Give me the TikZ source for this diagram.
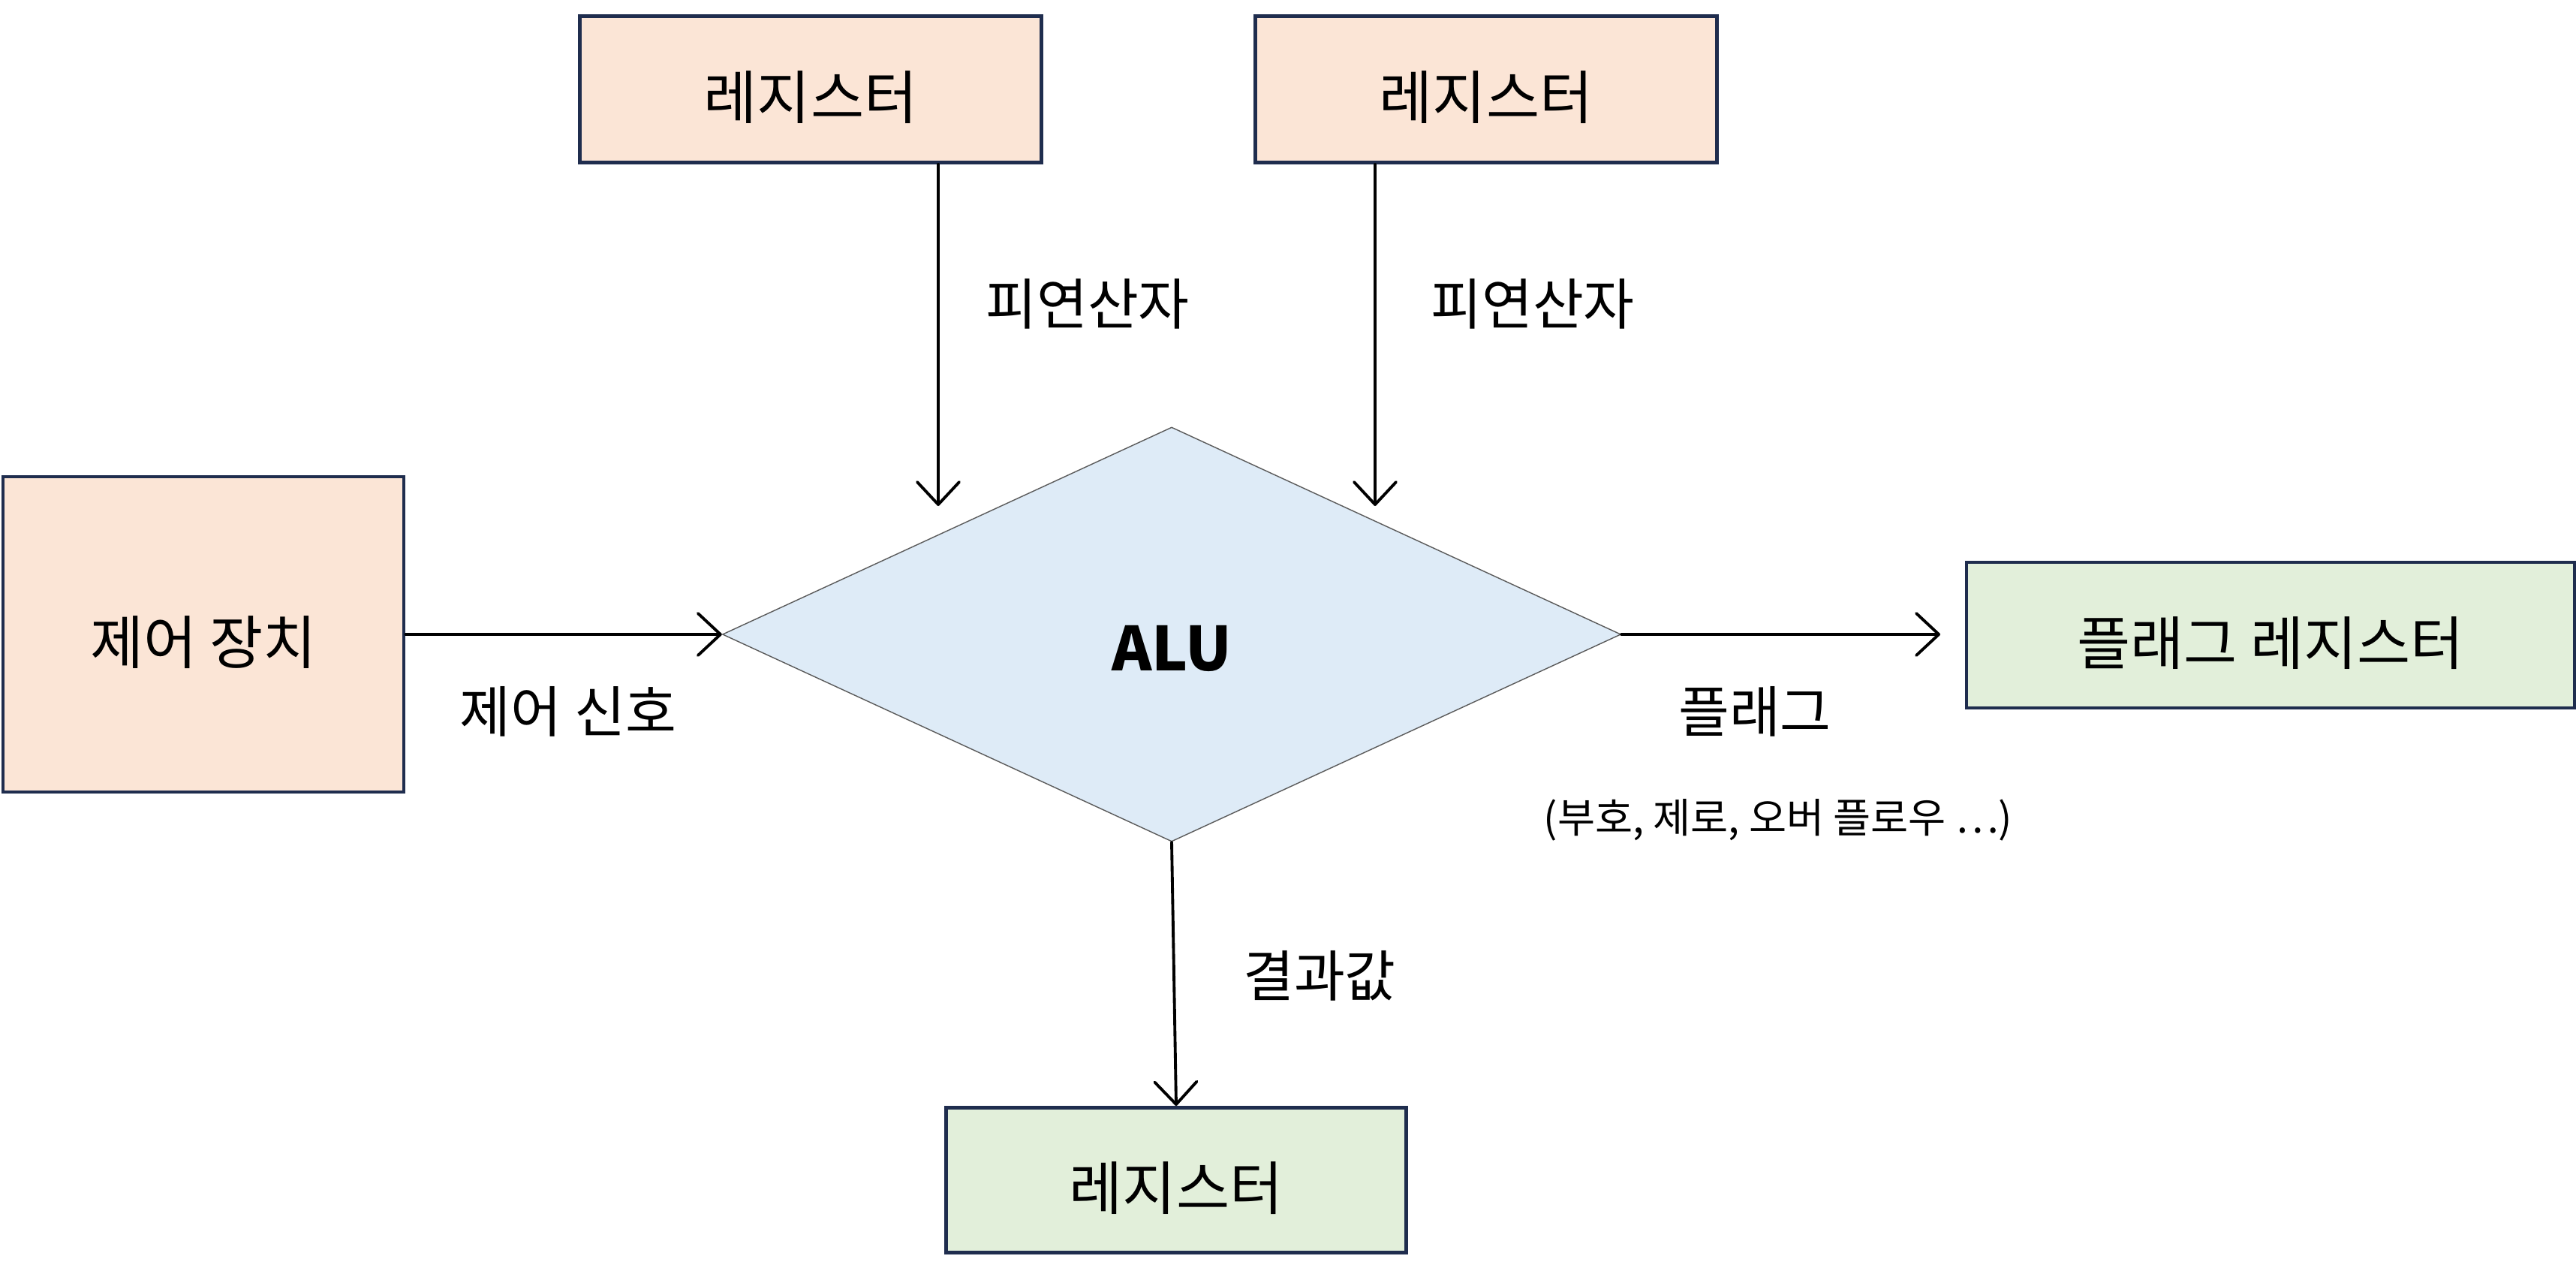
\documentclass[tikz,border=0pt]{standalone}
\usepackage{fontspec}
\setmainfont{Noto Sans CJK KR}
\usetikzlibrary{shapes.geometric, arrows.meta}
\usepackage{xcolor}
\definecolor{regpeach}{RGB}{251, 229, 214}
\definecolor{reggreen}{RGB}{226, 239, 218}
\definecolor{alublue}{RGB}{222, 235, 247}
\definecolor{boxnavy}{RGB}{31, 45, 78}
\definecolor{alugray}{RGB}{90, 90, 90}
\newcommand{\lowtext}[2]{\raisebox{-#1}[\height][\depth]{#2}}

\begin{document}
\begin{tikzpicture}[
    box/.style={rectangle, draw=boxnavy, line width=1.4pt, minimum width=6.15cm, minimum height=1.95cm, align=center, font=\fontsize{22pt}{26pt}\selectfont},
    inreg/.style={box, fill=regpeach},
    outreg/.style={box, fill=reggreen},
    alu/.style={diamond, draw=alugray, line width=0.4pt, fill=alublue, inner sep=0pt, minimum width=11.97cm, minimum height=5.52cm, font=\fontsize{23pt}{27pt}\selectfont\bfseries},
    arrow/.style={-{Straight Barb[length=3mm, width=5.6mm, round]}, line width=1.1pt, line cap=round},
    lbl/.style={font=\fontsize{21pt}{25pt}\selectfont},
    note/.style={font=\fontsize{15.5pt}{18pt}\selectfont}
]
\useasboundingbox (0,0) rectangle (34.32,-17.09);

% Registers on top
\node[inreg] (reg1) at (10.80, -1.19) {\lowtext{3pt}{레지스터}};
\node[inreg] (reg2) at (19.80, -1.19) {\lowtext{3pt}{레지스터}};

% Control unit
\node[inreg, minimum width=5.34cm, minimum height=4.20cm] (ctrl) at (2.71, -8.45) {\lowtext{3pt}{제어 장치}};

% ALU
\node[alu] (alu) at (15.61, -8.45) {\lowtext{5.5pt}{ALU}};

% Output registers
\node[outreg, minimum width=8.10cm, minimum height=1.94cm] (flagreg) at (30.25, -8.46) {\lowtext{3pt}{플래그 레지스터}};
\node[outreg, minimum width=6.13cm, minimum height=1.93cm] (resreg) at (15.67, -15.72) {\lowtext{3pt}{레지스터}};

% Operand arrows
\coordinate (op1end) at (12.50, -6.74);
\coordinate (op2end) at (18.32, -6.74);
\draw[arrow] (reg1.south -| op1end) -- (op1end);
\draw[arrow] (reg2.south -| op2end) -- (op2end);
\node[lbl] (op1lbl) at (14.49, -4.05) {피연산자};
\node[lbl] (op2lbl) at (20.42, -4.05) {피연산자};

% Control signal
\draw[arrow] (ctrl.east) -- (alu.west);
\node[lbl] (ctrllbl) at (7.57, -9.48) {제어 신호};

% Flags
\coordinate (flagend) at (25.85, -8.45);
\draw[arrow] (alu.east) -- (flagend);
\node[lbl] (flaglbl) at (23.38, -9.48) {플래그};
\node[note] (flagnote) at (23.69, -10.92) {(부호, 제로, 오버 플로우 …)};

% Result
\draw[arrow] (alu.south) -- (resreg.north);
\node[lbl] (reslbl) at (17.58, -13.00) {결과값};

\end{tikzpicture}
\end{document}
